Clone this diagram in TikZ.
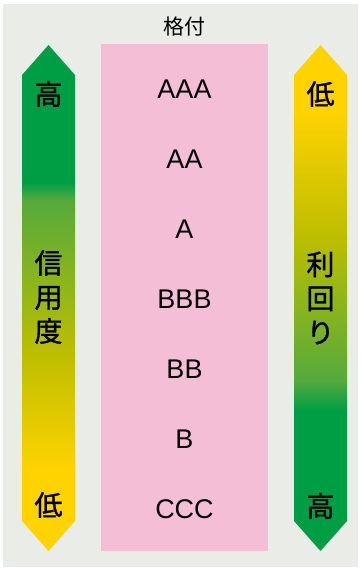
\documentclass[tikz,border=0pt]{standalone}
\usepackage{fontspec}
\setmainfont{Liberation Sans}
\newfontfamily\jpfont{Noto Sans CJK JP}
\newfontfamily\jpheavy[FakeBold=1.2]{Noto Sans CJK JP}

\definecolor{bggray}{RGB}{234,236,231}
\definecolor{ratepink}{RGB}{245,190,215}
\definecolor{arrgreen}{RGB}{0,158,68}
\definecolor{arrmid}{RGB}{85,170,60}
\definecolor{arrolive}{RGB}{190,190,0}
\definecolor{arryellow}{RGB}{255,211,0}

% 信用度: 上が緑, 下が黄
\pgfdeclareverticalshading{credit}{100bp}{color(0bp)=(arryellow); color(33bp)=(arryellow); color(44.4bp)=(arrolive); color(59.7bp)=(arrmid); color(61.4bp)=(arrgreen); color(100bp)=(arrgreen)}
% 利回り: 上が黄, 下が緑
\pgfdeclareverticalshading{yield}{100bp}{color(0bp)=(arrgreen); color(38.9bp)=(arrgreen); color(41.9bp)=(arrmid); color(56.2bp)=(arrolive); color(68.6bp)=(arryellow); color(100bp)=(arryellow)}

\begin{document}
\begin{tikzpicture}[x=1pt, y=-1pt,
    rate/.style={font=\fontsize{27}{30}\selectfont},
    kanji/.style={font=\jpheavy\fontsize{28}{34}\selectfont, align=center, inner sep=0pt}]
    % 背景
    \useasboundingbox (0,0) rectangle (361,569);
    \fill[white] (0,0) rectangle (361,569);
    \fill[bggray] (3,4) rectangle (358,567);

    % 格付の帯
    \fill[ratepink] (101,44) rectangle (268,551);
    \node[font=\jpfont\fontsize{21}{24}\selectfont] (title) at (184.5,27) {格付};

    % 左の矢印
    \shade[shading=credit] (22,75) -- (48.5,45) -- (75,75) -- (75,521) -- (48.5,551) -- (22,521) -- cycle;
    % 右の矢印
    \shade[shading=yield] (294,75) -- (320.5,45) -- (347,75) -- (347,521) -- (320.5,551) -- (294,521) -- cycle;

    % 格付
    \node[rate] (aaa) at (184.5,89) {AAA};
    \node[rate] (aa) at (184.5,159) {AA};
    \node[rate] (a) at (184.5,229) {A};
    \node[rate] (bbb) at (184.5,299) {BBB};
    \node[rate] (bb) at (184.5,369) {BB};
    \node[rate] (b) at (184.5,439) {B};
    \node[rate] (ccc) at (184.5,509) {CCC};

    % 矢印の文字
    \node[kanji] (credhi) at (48.5,94) {高};
    \node[kanji] (credit) at (48.5,297) {信\\用\\度};
    \node[kanji] (credlo) at (48.5,505) {低};
    \node[kanji] (yieldlo) at (320.5,94) {低};
    \node[kanji] (yield) at (320.5,298) {利\\回\\り};
    \node[kanji] (yieldhi) at (320.5,506) {高};
\end{tikzpicture}
\end{document}
